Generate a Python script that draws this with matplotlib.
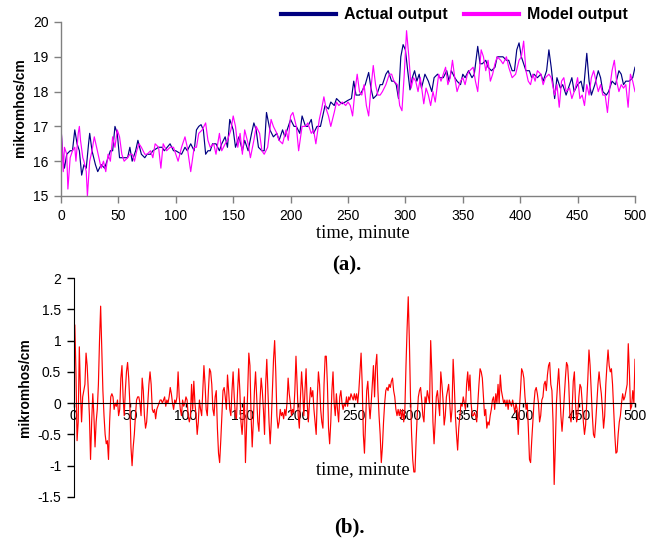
import numpy as np
import matplotlib
matplotlib.use("Agg")
import matplotlib.pyplot as plt
from matplotlib.lines import Line2D

# ---------------- data ----------------
actual = [(0,17.0),(1,16.4),(2,16.0),(3,15.8),(5,16.2),(8,16.3),(10,16.3),(12,16.9),(14,16.5),(16,16.3),
          (18,15.6),(20,15.9),(22,15.8),(24,16.5),(25,16.8),(27,16.3),(30,15.9),(32,15.7),(35,15.9),(38,15.8),
          (40,16.0),(43,16.3),(45,16.3),(47,17.0),(49,16.8),(51,16.1),(55,16.1),(58,16.1),(60,16.4),(62,16.0),
          (65,16.3),(67,16.6),(70,16.2),(73,16.1),(75,16.2),(78,16.2),(80,16.3),(85,16.4),(88,16.4),(90,16.3),
          (95,16.5),(98,16.3),(100,16.3),(105,16.2),(108,16.4),(110,16.3),(113,16.5),(116,16.3),(118,16.9),(120,17.0),
          (122,17.05),(124,16.9),(126,16.2),(128,16.3),(130,16.3),(132,16.5),(135,16.5),(138,16.3),(140,16.5),(143,16.7),
          (145,16.4),(147,17.2),(150,16.9),(152,16.4),(155,16.7),(158,16.3),(160,16.6),(163,16.3),(166,16.8),(168,17.1),
          (170,16.9),(172,16.4),(175,16.3),(177,16.3),(179,17.4),(182,16.9),(185,16.7),(188,16.8),(190,16.6),(193,16.9),
          (195,16.7),(198,17.0),(200,17.2),(203,17.0),(205,17.0),(208,16.8),(210,17.3),(213,17.0),(215,17.0),(218,17.2),
          (220,16.8),(223,17.0),(226,17.0),(228,17.3),(230,17.6),(233,17.5),(235,17.7),(238,17.6),(240,17.8),(243,17.7),
          (245,17.65),(250,17.75),(253,17.8),(255,18.3),(257,17.9),(260,17.9),(262,18.0),(265,18.2),(268,18.55),(270,18.1),
          (272,17.8),(275,17.9),(278,18.2),(280,18.2),(283,18.5),(285,18.6),(288,18.3),(290,18.3),(292,18.2),(294,17.8),
          (296,19.0),(298,19.35),(300,19.2),(302,18.6),(304,18.05),(306,18.4),(308,18.6),(310,18.3),(312,18.5),(314,18.1),
          (317,18.5),(320,18.3),(323,18.0),(325,18.4),(328,18.5),(330,18.4),(333,18.4),(336,18.6),(338,18.3),(340,18.6),
          (343,18.4),(345,18.3),(348,18.2),(350,18.5),(352,18.4),(355,18.6),(358,18.4),(360,18.5),(363,19.3),(365,18.8),
          (367,18.8),(370,18.9),(372,18.7),(375,18.6),(378,18.7),(380,19.0),(383,19.0),(385,19.0),(388,18.9),(390,18.9),
          (393,18.6),(395,18.6),(397,19.2),(399,19.4),(401,19.0),(403,18.8),(405,18.6),(408,18.6),(410,18.4),(412,18.5),
          (415,18.4),(418,18.5),(420,18.3),(423,18.6),(425,19.2),(427,18.7),(430,17.8),(432,18.4),(435,18.1),(437,18.2),
          (440,17.9),(443,18.2),(445,18.4),(447,18.0),(450,18.2),(453,18.3),(455,18.0),(458,19.1),(460,18.3),(462,17.9),
          (465,18.2),(468,18.6),(470,18.4),(472,18.0),(475,17.9),(477,18.0),(480,18.3),(483,18.2),(486,18.6),(488,18.5),
          (490,18.2),(492,18.3),(495,18.3),(498,18.4),(500,18.7)]

model = [(0,17.0),(1,16.4),(2,15.7),(3,16.4),(5,16.2),(6,15.2),(8,16.1),(10,16.3),(12,16.4),(13,16.0),
         (15,16.8),(16,17.0),(17,16.6),(19,16.1),(20,16.0),(22,15.7),(23,15.0),(25,16.0),(27,16.3),(29,16.7),
         (31,16.4),(33,16.1),(35,15.8),(37,16.0),(39,15.7),(41,16.2),(43,16.0),(45,16.7),(47,16.4),(49,16.9),
         (51,16.7),(53,16.2),(55,16.0),(58,16.1),(60,16.2),(62,16.2),(64,16.0),(66,16.3),(68,16.5),(70,16.4),
         (73,16.2),(75,16.2),(78,16.3),(80,16.1),(82,16.5),(85,16.4),(87,15.8),(89,16.5),(92,16.3),(95,16.4),
         (98,16.4),(100,16.2),(102,16.0),(105,16.4),(108,16.7),(110,16.4),(113,15.7),(116,16.4),(118,16.4),(120,16.8),
         (123,16.9),(126,17.1),(128,16.6),(130,16.4),(133,16.5),(135,16.2),(138,16.8),(140,16.3),(143,16.5),(145,16.6),
         (148,16.9),(150,17.3),(152,17.0),(154,16.4),(156,16.8),(158,16.2),(160,16.9),(163,16.5),(165,16.1),(168,16.6),
         (170,17.0),(173,16.8),(175,16.3),(177,16.2),(180,16.4),(183,17.2),(185,17.0),(188,16.8),(190,16.6),(193,16.5),
         (196,16.9),(198,16.6),(200,17.3),(202,17.4),(205,17.0),(207,16.3),(210,17.0),(213,17.0),(215,17.1),(218,16.8),
         (220,16.9),(222,16.5),(225,17.2),(227,17.5),(229,17.85),(231,17.5),(233,17.3),(235,17.0),(238,17.4),(240,17.7),
         (242,17.6),(245,17.7),(248,17.6),(250,17.7),(252,17.6),(254,17.3),(256,18.0),(258,18.5),(260,18.0),(262,17.9),
         (264,18.2),(266,17.6),(268,17.3),(270,18.1),(272,18.75),(274,18.2),(276,17.9),(278,17.9),(280,18.0),(283,18.2),
         (286,18.5),(288,18.5),(290,18.3),(293,18.2),(295,17.6),(297,17.45),(299,18.5),(301,19.75),(303,19.0),(305,18.1),
         (307,18.4),(309,18.3),(311,18.0),(313,18.4),(316,17.65),(318,18.1),(320,17.9),(322,17.6),(324,18.0),(326,17.7),
         (329,18.5),(331,18.3),(333,18.5),(335,18.7),(337,18.2),(339,18.4),(341,18.9),(343,18.4),(345,18.0),(348,18.3),
         (350,18.4),(352,18.2),(354,18.5),(356,18.6),(359,18.7),(361,18.3),(363,18.0),(366,19.2),(368,19.0),(370,18.6),
         (372,18.9),(374,18.3),(376,18.5),(378,18.8),(380,19.0),(383,18.9),(385,18.8),(388,19.0),(390,18.7),(393,18.4),
         (396,18.5),(399,18.9),(401,19.0),(403,19.45),(405,18.6),(407,18.3),(409,18.2),(411,18.5),(413,18.3),(415,18.6),
         (418,18.5),(420,18.2),(422,18.4),(425,18.5),(427,18.4),(430,17.9),(432,18.2),(434,17.55),(436,18.3),(438,18.4),
         (440,18.0),(443,18.1),(445,17.8),(448,18.1),(450,18.4),(452,17.8),(454,17.9),(456,17.6),(458,18.2),(460,17.9),
         (462,18.4),(464,18.6),(466,18.3),(468,18.0),(470,18.2),(472,17.9),(474,17.9),(476,17.4),(478,18.1),(480,18.6),
         (482,18.9),(484,18.3),(486,18.0),(488,18.2),(490,18.1),(492,18.2),(494,17.55),(496,18.5),(498,18.3),(500,18.0)]

# error, one value per minute 0..500
error = [
 1.2, 1.25, 0.5, -0.6, -0.3, 0.9, 0.2, -0.3, 0.1, 0.2,
 0.3, 0.8, 0.6, 0.2, -0.2, -0.9, -0.3, 0.15, -0.2, -0.7,
 -0.3, -0.1, 0.3, 1.0, 1.55, 0.9, 0.2, -0.2, -0.5, -0.65,
 -0.6, -0.9, -0.3, 0.1, 0.15, 0.1, -0.1, 0.0, -0.05, 0.05,
 -0.2, -0.1, 0.4, 0.6, 0.1, -0.2, 0.2, 0.5, 0.65, 0.4,
 0.0, -0.7, -1.0, -0.7, -0.5, -0.2, 0.05, 0.1, 0.1, 0.0,
 -0.2, 0.4, 0.2, -0.2, -0.4, -0.3, 0.0, 0.3, 0.5, 0.3,
 -0.1, -0.15, -0.1, -0.25, -0.1, -0.05, 0.0, 0.05, 0.05, 0.0,
 0.05, 0.1, -0.05, 0.05, 0.0, 0.1, 0.25, 0.15, 0.0, -0.1,
 0.05, 0.0, 0.1, 0.5, 0.1, -0.1, -0.2, 0.05, -0.05, 0.0,
 0.1, 0.05, -0.2, -0.3, -0.2, 0.3, -0.1, 0.35, 0.0, -0.2,
 -0.5, -0.3, 0.05, -0.1, -0.2, 0.2, 0.6, 0.3, -0.1, -0.2,
 0.2, 0.55, 0.5, 0.3, -0.1, -0.2, 0.1, 0.2, -0.4, -0.8,
 -0.95, -0.6, -0.2, 0.2, 0.25, 0.1, -0.1, 0.45, 0.2, -0.1,
 -0.2, 0.2, 0.5, 0.1, -0.2, -0.25, 0.2, 0.55, 0.2, -0.3,
 -0.5, -0.2, 0.1, -0.95, -0.4, 0.2, 0.8, 0.6, -0.2, -0.7,
 -0.3, 0.2, 0.5, 0.1, -0.3, -0.45, 0.05, 0.4, 0.2, -0.1,
 -0.5, 0.3, 0.7, 0.2, -0.3, -0.65, -0.3, 0.2, 0.7, 1.0,
 0.5, -0.2, -0.4, -0.3, -0.1, -0.2, -0.15, -0.25, -0.1, -0.2,
 0.0, 0.4, 0.15, 0.0, -0.2, -0.1, -0.15, 0.2, 0.75, 0.3,
 -0.2, -0.4, 0.1, 0.5, 0.2, -0.2, 0.2, 0.55, 0.0, -0.3,
 0.0, 0.25, 0.1, 0.2, -0.1, -0.3, -0.5, 0.1, 0.5, 0.3,
 -0.1, -0.3, -0.4, 0.3, 0.75, 0.75, 0.3, -0.4, -0.65, -0.3,
 0.2, 0.5, 0.0, -0.2, 0.15, -0.1, -0.3, 0.1, 0.2, 0.0,
 -0.1, 0.0, -0.05, 0.1, -0.05, 0.1, 0.05, 0.15, 0.1, 0.05,
 0.15, 0.05, 0.15, 0.0, 0.2, 0.5, 0.8, 0.3, -0.5, -0.8,
 -0.3, 0.2, 0.35, 0.0, -0.25, 0.0, 0.3, 0.6, 0.1, 0.6,
 0.78, 0.2, -0.2, -0.5, -0.95, -0.7, -0.3, 0.0, 0.2, 0.25,
 0.2, 0.3, 0.25, 0.35, 0.4, 0.2, 0.1, -0.1, -0.2, -0.1,
 -0.2, -0.1, -0.25, -0.1, -0.3, -0.1, 0.6, 1.2, 1.7, 1.0,
 0.1, -0.5, -0.9, -1.1, -1.1, -0.6, -0.2, 0.1, 0.2, 0.25,
 0.05, -0.2, -0.3, 0.1, 0.0, 0.2, 0.1, 0.0, 1.0, 0.5,
 -0.3, -0.65, -0.3, 0.1, 0.2, 0.0, -0.2, 0.5, 0.3, 0.05,
 -0.35, -0.2, 0.1, 0.2, 0.3, 0.0, -0.3, -0.1, 0.7, 0.3,
 -0.2, -0.5, -0.75, -0.4, -0.2, 0.0, -0.05, 0.1, 0.0, -0.1,
 0.3, 0.5, 0.2, 0.45, 0.0, -0.2, -0.2, -0.15, -0.2, -0.3,
 0.0, 0.3, 0.55, 0.5, 0.4, 0.1, -0.2, -0.1, -0.4, -0.3,
 -0.35, -0.2, -0.1, 0.05, 0.1, -0.1, 0.15, 0.0, 0.3, 0.0,
 0.45, 0.2, 0.1, 0.0, 0.05, -0.05, 0.05, -0.1, 0.05, 0.0,
 -0.05, 0.05, -0.05, -0.15, 0.0, -0.1, -0.5, -0.1, 0.2, 0.55,
 0.5, 0.4, 0.1, -0.1, 0.0, -0.4, -0.9, -0.95, -0.6, -0.3,
 0.0, 0.2, 0.25, 0.15, 0.0, -0.3, -0.2, 0.05, 0.1, 0.3,
 0.35, 0.2, 0.45, 0.6, 0.65, 0.3, 0.2, -0.3, -1.3, -0.7,
 0.0, 0.3, 0.55, 0.2, -0.2, -0.45, -0.2, 0.1, 0.4, 0.65,
 0.6, 0.3, -0.2, -0.3, -0.1, 0.35, 0.5, 0.0, -0.3, -0.2,
 0.1, 0.3, 0.25, 0.0, -0.3, -0.5, -0.35, 0.0, 0.4, 0.85,
 0.6, 0.2, -0.2, -0.5, -0.55, -0.3, 0.0, 0.3, 0.5, 0.3,
 0.15, -0.1, -0.4, -0.2, 0.3, 0.6, 0.85, 0.6, 0.5, 0.55,
 0.3, -0.1, -0.5, -0.8, -0.78, -0.5, -0.3, -0.2, 0.0, 0.15,
 0.05, 0.1, 0.2, 0.3, 0.95, 0.5, -0.1, -0.05, 0.2, 0.0,
 0.7]

xticks = [0, 50, 100, 150, 200, 250, 300, 350, 400, 450, 500]
yticks_a = [15, 16, 17, 18, 19, 20]
yticks_b = [-1.5, -1, -0.5, 0, 0.5, 1, 1.5, 2]
yticklabels_b = ["-1.5", "-1", "-0.5", "0", "0.5", "1", "1.5", "2"]

act_t, act_v = zip(*actual)
mod_t, mod_v = zip(*model)
err_t = np.arange(len(error))

# ---------------- figure ----------------
W, H = 664, 548
fig = plt.figure(figsize=(W / 100, H / 100), dpi=100)
SANS = "Liberation Sans"
SERIF = "Liberation Serif"

def box(x0, x1, ytop, ybot):
    return [x0 / W, 1 - ybot / H, (x1 - x0) / W, (ybot - ytop) / H]

# ---- panel (a)
ax1 = fig.add_axes(box(61, 635, 22, 196))
ax1.plot(act_t, act_v, color="#000080", lw=0.85)
ax1.plot(mod_t, mod_v, color="#FF00FF", lw=0.85)
ax1.set_xlim(0, 500)
ax1.set_ylim(15, 20)
ax1.set_xticks(xticks)
ax1.set_yticks(yticks_a)
for s in ("top", "right"):
    ax1.spines[s].set_visible(False)
for s in ("left", "bottom"):
    ax1.spines[s].set_color("#808080")
    ax1.spines[s].set_linewidth(1.0)
ax1.tick_params(direction="out", length=5, width=1, color="#808080",
                labelsize=10, pad=4)
for lab in ax1.get_xticklabels() + ax1.get_yticklabels():
    lab.set_fontfamily(SANS)

# ---- panel (b)
ax2 = fig.add_axes(box(73.7, 635, 278, 497))
ax2.plot(err_t, error, color="#FF0000", lw=0.85)
ax2.set_xlim(0, 500)
ax2.set_ylim(-1.5, 2)
ax2.set_xticks(xticks)
ax2.set_yticks(yticks_b)
ax2.set_yticklabels(yticklabels_b)
for s in ("top", "right"):
    ax2.spines[s].set_visible(False)
ax2.spines["bottom"].set_position(("data", 0))
ax2.spines["bottom"].set_color("#000000")
ax2.spines["left"].set_color("#000000")
ax2.tick_params(axis="y", direction="out", length=5, width=1, labelsize=10, pad=4)
ax2.tick_params(axis="x", direction="out", length=3, width=1, labelsize=10, pad=1)
for lab in ax2.get_xticklabels() + ax2.get_yticklabels():
    lab.set_fontfamily(SANS)

# ---- texts
fig.text(20 / W, 1 - 108 / H, "mikromhos/cm", rotation=90, ha="center", va="center",
         fontsize=10, fontweight="bold", family=SANS)
fig.text(25 / W, 1 - 388 / H, "mikromhos/cm", rotation=90, ha="center", va="center",
         fontsize=10, fontweight="bold", family=SANS)
fig.text(363 / W, 1 - 233 / H, "time, minute", ha="center", va="center",
         fontsize=13.2, family=SERIF)
fig.text(363 / W, 1 - 470 / H, "time, minute", ha="center", va="center",
         fontsize=13.2, family=SERIF)
fig.text(347 / W, 1 - 265 / H, "(a).", ha="center", va="center",
         fontsize=15, fontweight="bold", family=SERIF)
fig.text(349 / W, 1 - 527 / H, "(b).", ha="center", va="center",
         fontsize=15, fontweight="bold", family=SERIF)

# ---- legend
handles = [Line2D([], [], color="#000080", lw=3),
           Line2D([], [], color="#FF00FF", lw=3)]
leg = fig.legend(handles, ["Actual output", "Model output"], loc="center right",
                 bbox_to_anchor=(628 / W, 1 - 15 / H), ncol=2, frameon=False,
                 handlelength=3.45, handletextpad=0.5, columnspacing=1.05,
                 borderaxespad=0, borderpad=0,
                 prop={"family": SANS, "weight": "bold", "size": 11.5})

fig.savefig("out.png", dpi=100)
